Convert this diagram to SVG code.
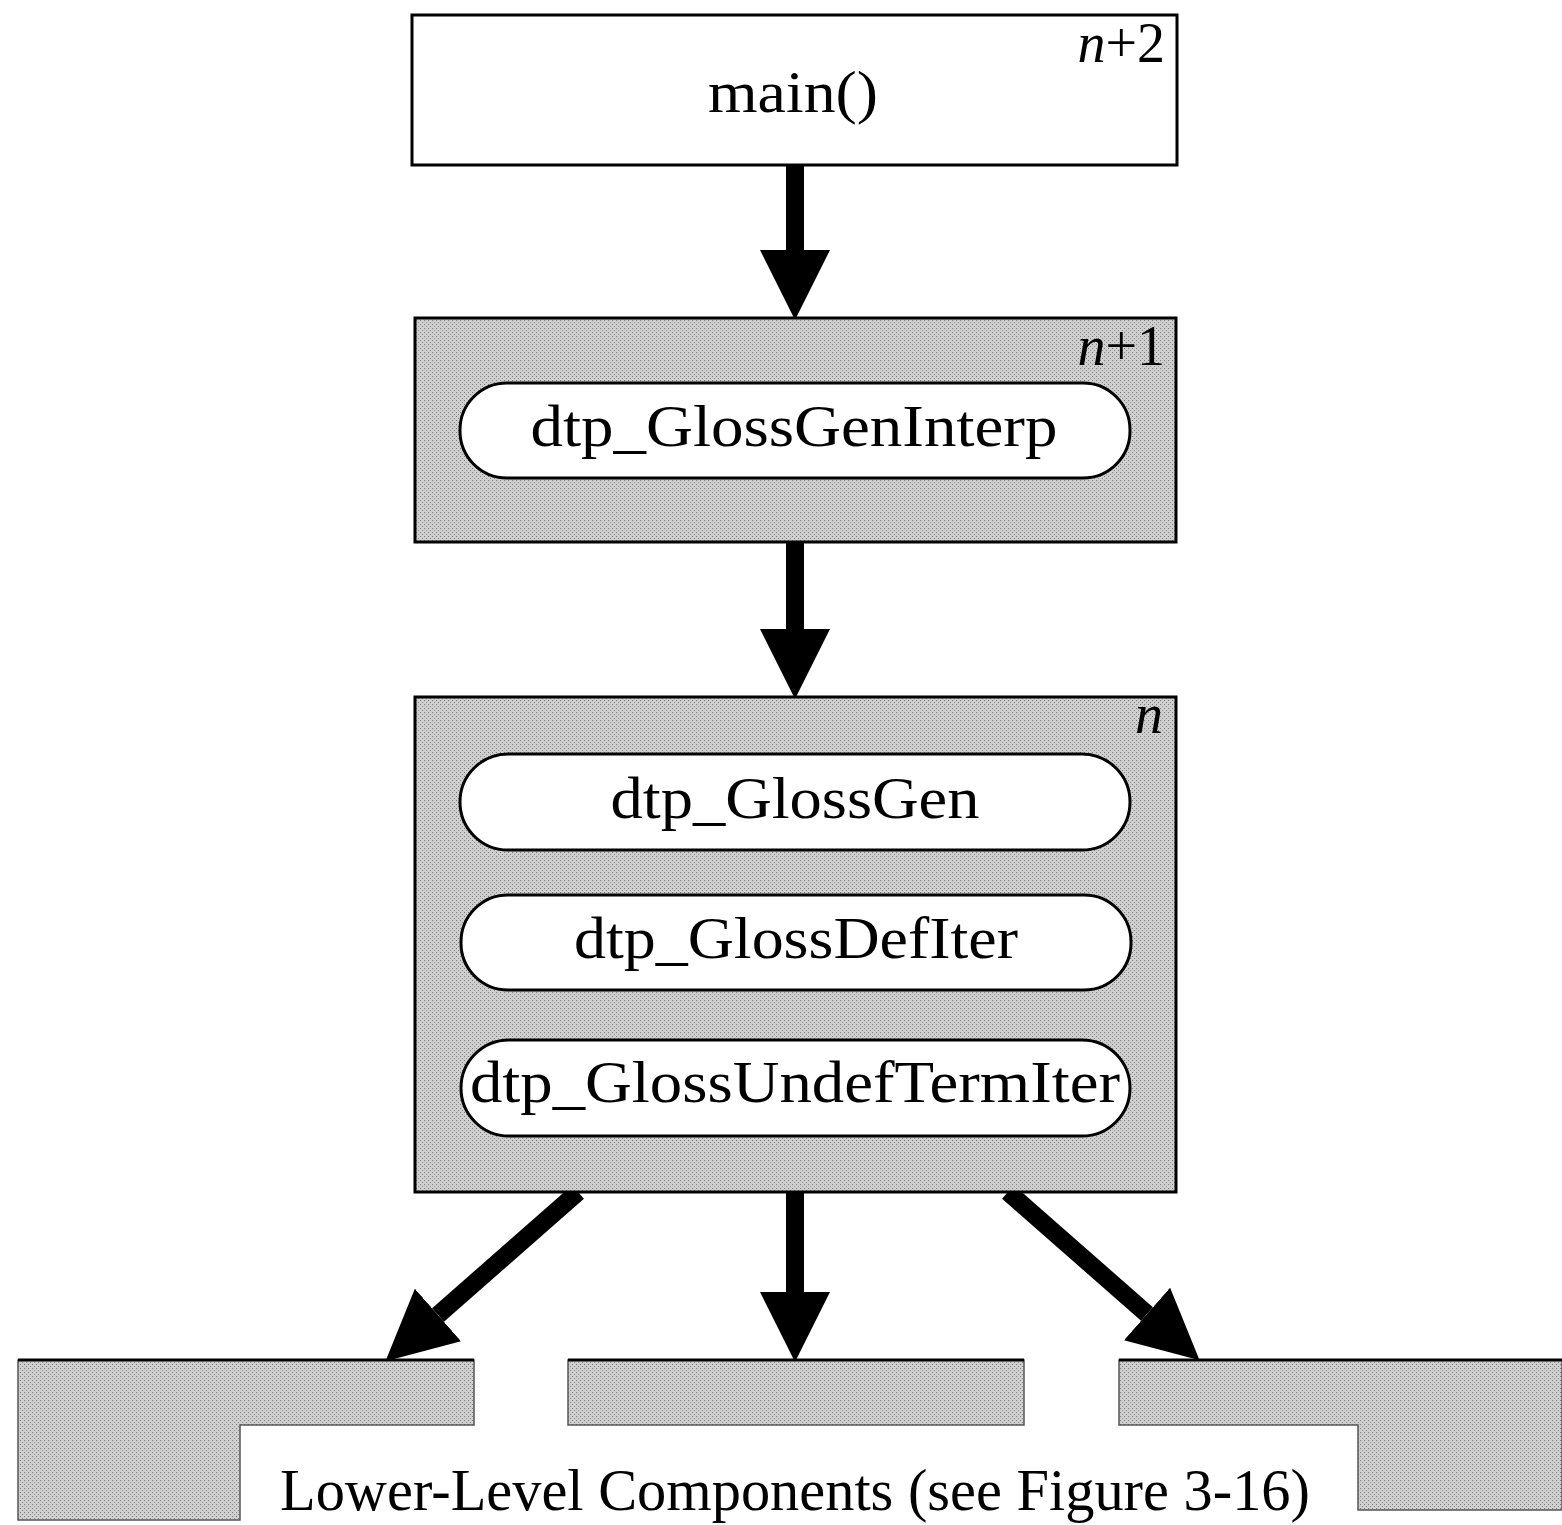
<svg xmlns="http://www.w3.org/2000/svg" width="1562" height="1525" viewBox="0 0 1562 1525">
<style>
.box{stroke:#000;stroke-width:3}
.shade{fill:url(#stip)}
.pill{fill:#fff;stroke:#000;stroke-width:3}
.lbl{font-family:"Liberation Serif","DejaVu Serif",serif;font-size:60px;fill:#000;text-anchor:middle}
.lvl{font-family:"Liberation Serif","DejaVu Serif",serif;font-size:56px;font-style:italic;fill:#000;text-anchor:end}
.lvl tspan.u{font-style:normal}
.edge{fill:none;stroke:#000;stroke-width:18}
</style>
<defs>
<pattern id="stip" width="4" height="4" patternUnits="userSpaceOnUse">
<rect width="4" height="4" fill="#cfcfcf"/>
<rect x="0" y="0" width="1" height="1" fill="#7a7a7a"/>
<rect x="2" y="2" width="1" height="1" fill="#8a8a8a"/>
</pattern>
<marker id="head" markerUnits="userSpaceOnUse" markerWidth="70" markerHeight="70" viewBox="0 0 68 68" refX="0" refY="34" orient="auto">
<path d="M0,0 L68,34 L0,68 Z" fill="#000"/>
</marker>
</defs>

<g id="connectors">
<path class="edge" d="M795,165 L795,250" marker-end="url(#head)"/>
<path class="edge" d="M795,542 L795,629" marker-end="url(#head)"/>
<path class="edge" d="M795,1192 L795,1292" marker-end="url(#head)"/>
<path class="edge" d="M578,1192 L438,1315" marker-end="url(#head)"/>
<path class="edge" d="M1008,1192 L1147,1314" marker-end="url(#head)"/>
</g>

<g id="node-main">
<rect class="box" x="412" y="15" width="765" height="150" fill="#fff"/>
<text class="lbl" x="793" y="112" textLength="170" lengthAdjust="spacingAndGlyphs">main()</text>
<text class="lvl" x="1165" y="62">n<tspan class="u">+2</tspan></text>
</g>

<g id="node-n1">
<rect class="box shade" x="415" y="318" width="761" height="224"/>
<text class="lvl" x="1165" y="365">n<tspan class="u">+1</tspan></text>
<g id="node-dtp_GlossGenInterp">
<rect class="pill" x="460" y="383" width="670" height="95" rx="47" ry="47"/>
<text class="lbl" x="794" y="446" textLength="527" lengthAdjust="spacingAndGlyphs">dtp_GlossGenInterp</text>
</g>
</g>

<g id="node-n">
<rect class="box shade" x="415" y="697" width="761" height="495"/>
<text class="lvl" x="1163" y="733">n</text>
<g id="node-dtp_GlossGen">
<rect class="pill" x="460" y="754" width="670" height="96" rx="48" ry="48"/>
<text class="lbl" x="795" y="818" textLength="369" lengthAdjust="spacingAndGlyphs">dtp_GlossGen</text>
</g>
<g id="node-dtp_GlossDefIter">
<rect class="pill" x="461" y="895" width="670" height="95" rx="47" ry="47"/>
<text class="lbl" x="796" y="958" textLength="444" lengthAdjust="spacingAndGlyphs">dtp_GlossDefIter</text>
</g>
<g id="node-dtp_GlossUndefTermIter">
<rect class="pill" x="461" y="1040" width="669" height="96" rx="48" ry="48"/>
<text class="lbl" x="795" y="1102" textLength="650" lengthAdjust="spacingAndGlyphs">dtp_GlossUndefTermIter</text>
</g>
</g>

<g id="node-lower-left">
<path class="shade" d="M18,1360 L474,1360 L474,1425 L240,1425 L240,1520 L18,1520 Z" stroke="#555" stroke-width="1.5"/>
<line x1="18" y1="1360" x2="474" y2="1360" stroke="#000" stroke-width="3"/>
</g>
<g id="node-lower-middle">
<rect class="shade" x="568" y="1360" width="456" height="65" stroke="#555" stroke-width="1.5"/>
<line x1="568" y1="1360" x2="1024" y2="1360" stroke="#000" stroke-width="3"/>
</g>
<g id="node-lower-right">
<path class="shade" d="M1119,1360 L1562,1360 L1562,1510 L1358,1510 L1358,1425 L1119,1425 Z" stroke="#555" stroke-width="1.5"/>
<line x1="1119" y1="1360" x2="1562" y2="1360" stroke="#000" stroke-width="3"/>
</g>
<g id="label-lower">
<text class="lbl" x="795" y="1510" textLength="1030" lengthAdjust="spacingAndGlyphs">Lower-Level Components (see Figure 3-16)</text>
</g>
</svg>
